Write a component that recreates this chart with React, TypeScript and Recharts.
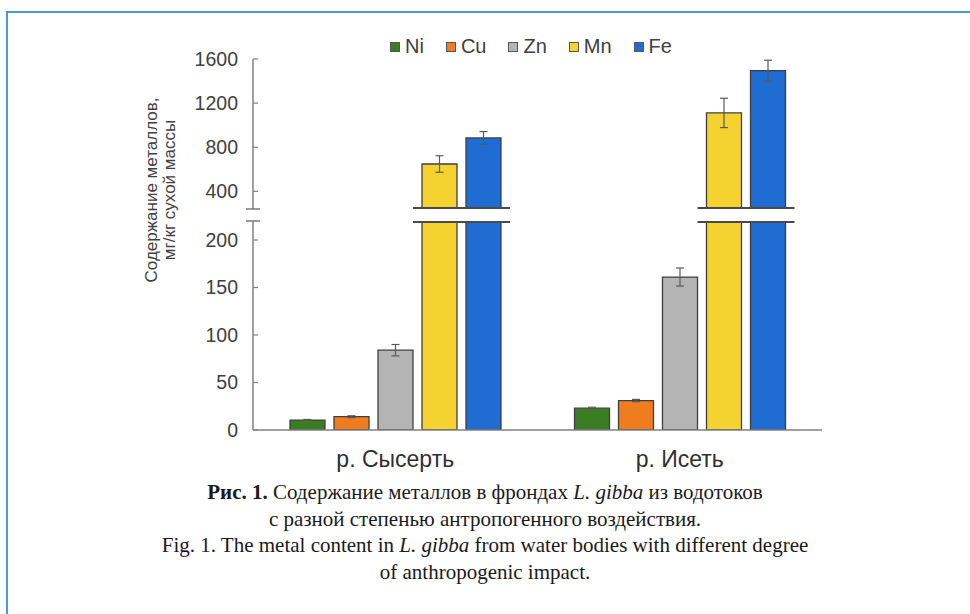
import React from 'react';
import { BarChart, Bar, XAxis, YAxis, ErrorBar, Legend, Rectangle } from 'recharts';

// ---- data ----
const sites = ['р. Сысерть', 'р. Исеть'];
const metals = ['Ni', 'Cu', 'Zn', 'Mn', 'Fe'];
const metalColors = ['#3b7d23', '#ef7d1e', '#b4b4b4', '#f4d331', '#1f6dd3'];
const niValues = [10.5, 23];
const niErrors = [0.6, 1];
const cuValues = [14, 31];
const cuErrors = [1, 1.2];
const znValues = [84, 161];
const znErrors = [6, 9.5];
const mnValues = [648, 1111];
const mnErrors = [75, 133];
const feValues = [884, 1494];
const feErrors = [58, 95];
const lowerTicks = [0, 50, 100, 150, 200, 220];
const upperTicks = [240, 400, 800, 1200, 1600];
const LOWER_MAX = 220;
const UPPER_MIN = 240;
const UPPER_MAX = 1600;

const valuesByMetal: Record<string, number[]> = { Ni: niValues, Cu: cuValues, Zn: znValues, Mn: mnValues, Fe: feValues };
const errorsByMetal: Record<string, number[]> = { Ni: niErrors, Cu: cuErrors, Zn: znErrors, Mn: mnErrors, Fe: feErrors };

const data = sites.map((site, i) => {
  const row: any = { site };
  metals.forEach((m) => {
    row[m] = valuesByMetal[m][i];
    row[m + 'Err'] = errorsByMetal[m][i];
  });
  return row;
});

// ---- layout ----
const W = 970;
const MARGIN_LEFT = 193;
const Y_AXIS_W = 60;
const MARGIN_RIGHT = 148;
const UPPER_H = 215;
const UPPER_TOP = 59;
const UPPER_BOTTOM = 209;
const LOWER_H = 480;
const LOWER_TOP = 221;
const TICK_MARGIN = 15;
const TEXT = '#404040';
const AXIS = '#808080';
const BAR_STROKE = '#3f3f3f';
const SANS = '"Liberation Sans", Arial, sans-serif';

const makeTick = (breakValue: number) => (props: any) => {
  const { x, y, payload } = props;
  const axisX = x + TICK_MARGIN;
  if (payload.value === breakValue) {
    return <line x1={axisX - 7} x2={axisX + 7} y1={y} y2={y} stroke={AXIS} strokeWidth={1.6} />;
  }
  return (
    <g>
      <line x1={axisX} x2={axisX + 5} y1={y} y2={y} stroke={AXIS} strokeWidth={1.2} />
      <text x={x} y={y} dy="0.35em" textAnchor="end" fill={TEXT} fontSize={19.5} fontFamily={SANS}>
        {payload.value}
      </text>
    </g>
  );
};

const makeShape = (mode: 'lower' | 'upper', metal: string) => (props: any) => {
  const { x, y, width, height, fill, payload } = props;
  const v = payload ? payload[metal] : 0;
  const showBreak = mode === 'lower' ? v > LOWER_MAX : v > UPPER_MIN;
  if (mode === 'upper' && !showBreak) return <g />;
  const lineY = mode === 'lower' ? LOWER_TOP + 1 : UPPER_BOTTOM - 1;
  return (
    <g>
      <Rectangle x={x} y={y} width={width} height={height} fill={fill} stroke={BAR_STROKE} strokeWidth={1.3} />
      {showBreak && (
        <line x1={x - 9} x2={x + width + 9} y1={lineY} y2={lineY} stroke="#4a4a4a" strokeWidth={2} />
      )}
    </g>
  );
};

const renderLegend = (props: any) => {
  const payload = [...(props.payload || [])].sort(
    (a: any, b: any) => metals.indexOf(a.value) - metals.indexOf(b.value)
  );
  return (
    <div style={{ display: 'flex', fontFamily: SANS, fontSize: 20, color: TEXT, whiteSpace: 'nowrap' }}>
      {payload.map((e: any) => (
        <span key={e.value} style={{ display: 'flex', alignItems: 'center', marginRight: 22 }}>
          <span
            style={{
              width: 8,
              height: 8,
              background: e.color,
              border: '1px solid #555',
              marginRight: 5,
              display: 'inline-block',
            }}
          />
          {e.value}
        </span>
      ))}
    </div>
  );
};

export default function App() {
  return (
    <div
      style={{
        position: 'fixed',
        left: 0,
        top: 0,
        width: 970,
        height: 614,
        background: '#fff',
        overflow: 'hidden',
      }}
    >
      <div
        style={{
          position: 'absolute',
          left: 6,
          top: 11,
          width: 1100,
          height: 800,
          borderTop: '2px solid #4a9ad6',
          borderLeft: '2px solid #4a9ad6',
        }}
      />

      {/* lower part */}
      <div style={{ position: 'absolute', left: 0, top: 0 }}>
        <BarChart
          width={W}
          height={LOWER_H}
          data={data}
          margin={{ top: LOWER_TOP, right: MARGIN_RIGHT, bottom: 20, left: MARGIN_LEFT }}
          barGap={9}
          barSize={35}
        >
          <XAxis
            dataKey="site"
            height={30}
            axisLine={{ stroke: AXIS, strokeWidth: 1.5 }}
            tickLine={false}
            tickMargin={15}
            tick={{ fill: '#303030', fontSize: 23, fontFamily: SANS }}
          />
          <YAxis
            type="number"
            domain={[0, LOWER_MAX]}
            ticks={lowerTicks}
            allowDataOverflow
            width={Y_AXIS_W}
            axisLine={{ stroke: AXIS, strokeWidth: 1.5 }}
            tickLine={false}
            tickSize={0}
            tickMargin={TICK_MARGIN}
            tick={makeTick(LOWER_MAX)}
            interval={0}
          />
          {metals.map((m, i) => (
            <Bar
              key={m}
              dataKey={m}
              name={m}
              fill={metalColors[i]}
              isAnimationActive={false}
              shape={makeShape('lower', m)}
            >
              <ErrorBar dataKey={m + 'Err'} width={4} stroke="#595959" strokeWidth={1.2} />
            </Bar>
          ))}
        </BarChart>
      </div>

      {/* upper part */}
      <div style={{ position: 'absolute', left: 0, top: 0 }}>
        <BarChart
          width={W}
          height={UPPER_H}
          data={data}
          margin={{ top: UPPER_TOP, right: MARGIN_RIGHT, bottom: UPPER_H - UPPER_BOTTOM, left: MARGIN_LEFT }}
          barGap={9}
          barSize={35}
        >
          <XAxis dataKey="site" hide />
          <YAxis
            type="number"
            domain={[UPPER_MIN, UPPER_MAX]}
            ticks={upperTicks}
            allowDataOverflow
            width={Y_AXIS_W}
            axisLine={{ stroke: AXIS, strokeWidth: 1.5 }}
            tickLine={false}
            tickSize={0}
            tickMargin={TICK_MARGIN}
            tick={makeTick(UPPER_MIN)}
            interval={0}
          />
          <Legend
            verticalAlign="middle"
            align="center"
            layout="horizontal"
            content={renderLegend}
            wrapperStyle={{ top: 35, left: 390, width: 'auto' }}
          />
          {metals.map((m, i) => (
            <Bar
              key={m}
              dataKey={m}
              name={m}
              fill={metalColors[i]}
              isAnimationActive={false}
              shape={makeShape('upper', m)}
            >
              <ErrorBar dataKey={m + 'Err'} width={4} stroke="#595959" strokeWidth={1.2} />
            </Bar>
          ))}
        </BarChart>
      </div>

      {/* y-axis title */}
      <svg style={{ position: 'absolute', left: 0, top: 0 }} width={250} height={450}>
        <text
          transform="translate(157, 190) rotate(-90)"
          textAnchor="middle"
          fill={TEXT}
          fontSize={17}
          fontFamily={SANS}
        >
          Содержание металлов,
        </text>
        <text
          transform="translate(175, 190) rotate(-90)"
          textAnchor="middle"
          fill={TEXT}
          fontSize={17}
          fontFamily={SANS}
        >
          мг/кг сухой массы
        </text>
      </svg>

      {/* caption */}
      <div
        style={{
          position: 'absolute',
          left: 0,
          top: 479,
          width: 970,
          textAlign: 'center',
          fontFamily: '"Liberation Serif", "Times New Roman", serif',
          fontSize: 21,
          lineHeight: '26.7px',
          color: '#1a1a1a',
        }}
      >
        <b>Рис. 1.</b> Содержание металлов в фрондах <i>L. gibba</i> из водотоков
        <br />
        с разной степенью антропогенного воздействия.
        <br />
        Fig. 1. The metal content in <i>L. gibba</i> from water bodies with different degree
        <br />
        of anthropogenic impact.
      </div>
    </div>
  );
}
